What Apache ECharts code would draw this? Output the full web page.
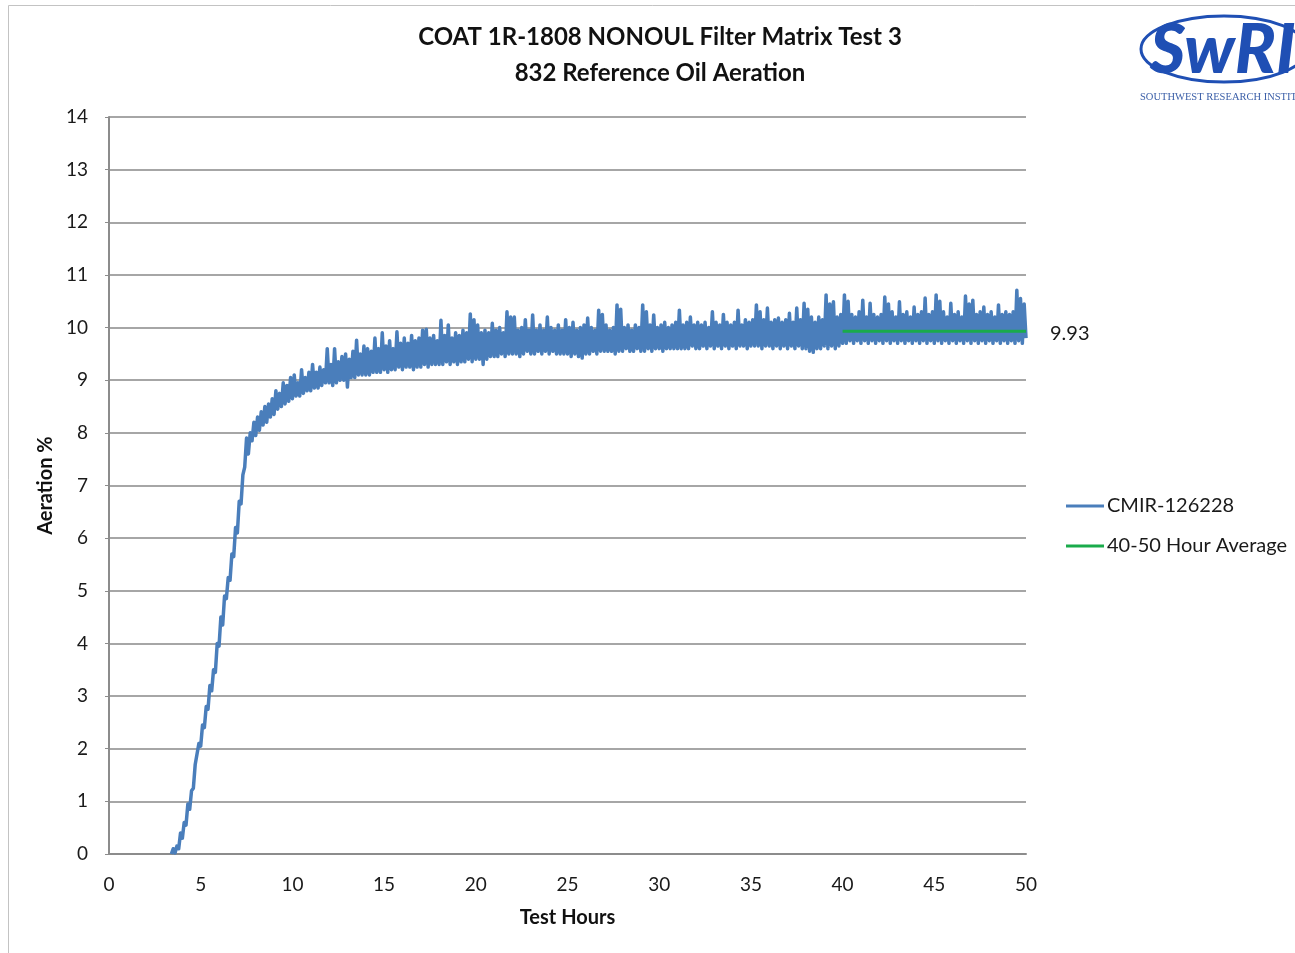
<!DOCTYPE html>
<html>
<head>
<meta charset="utf-8">
<title>COAT 1R-1808 NONOUL Filter Matrix Test 3</title>
<script src="https://cdn.jsdelivr.net/npm/echarts@6/dist/echarts.min.js"></script>
<style>
  html, body { margin: 0; padding: 0; background: #fff; }
  #chart { width: 1295px; height: 953px; }
</style>
</head>
<body>
<div id="chart"></div>
<script>
// Aeration readings, one every 0.1 test hour, starting at 3.4 h
const sampleStartHour = 3.4;
const sampleStepHours = 0.1;

// 3.4 h - 7.9 h : aeration build-up
const aerationRise = [
  0.0, 0.1, 0.02, 0.15, 0.1, 0.4,
  0.3, 0.6, 0.55, 0.95, 0.85, 1.2, 1.25, 1.7, 1.7, 2.1,
  2.05, 2.45, 2.4, 2.8, 2.75, 3.2, 3.1, 3.5, 3.45, 4.0,
  3.95, 4.5, 4.35, 4.9, 4.85, 5.25, 5.2, 5.7, 5.65, 6.2,
  6.1, 6.7, 6.65, 7.2, 7.35, 7.9, 7.6, 8.0, 7.85, 8.2
];

// 8.0 h - 19.9 h
const aeration8to20 = [
  7.95, 8.3, 8.05, 8.4, 8.15, 8.5, 8.2, 8.55, 8.3, 8.65,
  8.35, 8.8, 8.45, 8.75, 8.5, 8.95, 8.55, 8.9, 8.6, 9.05,
  8.65, 9.1, 8.7, 8.95, 8.7, 9.2, 8.75, 9.05, 8.8, 9.15,
  8.8, 9.3, 8.85, 9.15, 8.85, 9.25, 8.9, 9.2, 8.95, 9.6,
  8.95, 9.3, 8.9, 9.6, 8.95, 9.35, 9.0, 9.45, 9.0, 9.5,
  8.87, 9.4, 9.05, 9.55, 9.05, 9.76, 9.1, 9.5, 9.1, 9.65,
  9.1, 9.6, 9.1, 9.55, 9.15, 9.8, 9.15, 9.6, 9.15, 9.9,
  9.2, 9.65, 9.15, 9.75, 9.2, 9.6, 9.2, 9.92, 9.25, 9.7,
  9.2, 9.8, 9.25, 9.7, 9.25, 9.85, 9.2, 9.75, 9.25, 9.8,
  9.25, 9.95, 9.3, 9.97, 9.25, 9.8, 9.3, 9.85, 9.3, 9.75,
  9.3, 10.14, 9.3, 9.85, 9.35, 10.05, 9.3, 9.8, 9.35, 9.9,
  9.3, 9.85, 9.35, 9.95, 9.35, 9.9, 9.4, 10.26, 9.35, 10.15
];

// 20.0 h - 29.9 h
const aeration20to30 = [
  9.4, 10.05, 9.4, 9.9, 9.3, 9.95, 9.4, 9.9, 9.45, 10.08,
  9.45, 9.95, 9.45, 10.0, 9.5, 9.9, 9.45, 10.3, 9.5, 10.2,
  9.5, 10.2, 9.5, 9.95, 9.45, 10.0, 9.5, 10.15, 9.55, 9.95,
  9.5, 10.24, 9.5, 9.95, 9.55, 10.05, 9.5, 9.95, 9.55, 10.2,
  9.5, 10.0, 9.55, 9.95, 9.5, 10.05, 9.5, 9.95, 9.5, 10.15,
  9.5, 10.0, 9.45, 10.1, 9.5, 9.95, 9.45, 10.0, 9.42, 10.05,
  9.5, 10.18, 9.5, 10.0, 9.55, 9.95, 9.5, 10.33, 9.55, 10.25,
  9.55, 10.05, 9.55, 9.95, 9.55, 10.0, 9.5, 10.43, 9.55, 10.35,
  9.55, 10.0, 9.6, 10.05, 9.55, 9.95, 9.55, 10.05, 9.6, 10.0,
  9.55, 10.43, 9.55, 10.3, 9.6, 10.05, 9.55, 10.24, 9.6, 10.0
];

// 30.0 h - 39.9 h
const aeration30to40 = [
  9.6, 10.05, 9.55, 10.1, 9.6, 10.0, 9.6, 10.05, 9.6, 10.1,
  9.6, 10.33, 9.6, 10.05, 9.6, 10.1, 9.6, 10.2, 9.65, 10.05,
  9.6, 10.1, 9.6, 10.05, 9.65, 10.1, 9.6, 10.0, 9.65, 10.3,
  9.6, 10.1, 9.65, 10.05, 9.6, 10.25, 9.65, 10.1, 9.6, 10.05,
  9.65, 10.1, 9.6, 10.33, 9.65, 10.05, 9.65, 10.15, 9.6, 10.1,
  9.65, 10.15, 9.65, 10.43, 9.65, 10.3, 9.6, 10.15, 9.65, 10.37,
  9.65, 10.1, 9.6, 10.15, 9.65, 10.18, 9.6, 10.1, 9.65, 10.15,
  9.6, 10.27, 9.65, 10.1, 9.6, 10.37, 9.65, 10.15, 9.6, 10.46,
  9.6, 10.35, 9.55, 10.2, 9.53, 10.1, 9.6, 10.2, 9.6, 10.15,
  9.65, 10.62, 9.6, 10.45, 9.65, 10.49, 9.6, 10.2, 9.65, 10.25
];

// 40.0 h - 50.0 h
const aeration40to50 = [
  9.7, 10.62, 9.7, 10.5, 9.75, 10.25, 9.7, 10.2, 9.75, 10.3,
  9.7, 10.52, 9.75, 10.2, 9.7, 10.46, 9.75, 10.25, 9.7, 10.2,
  9.75, 10.25, 9.7, 10.58, 9.75, 10.45, 9.7, 10.3, 9.75, 10.2,
  9.7, 10.49, 9.75, 10.25, 9.7, 10.3, 9.75, 10.2, 9.7, 10.39,
  9.75, 10.25, 9.7, 10.3, 9.75, 10.56, 9.7, 10.25, 9.75, 10.3,
  9.7, 10.62, 9.75, 10.5, 9.7, 10.3, 9.75, 10.2, 9.7, 10.46,
  9.75, 10.25, 9.7, 10.3, 9.75, 10.2, 9.7, 10.6, 9.75, 10.45,
  9.7, 10.52, 9.75, 10.25, 9.7, 10.3, 9.75, 10.39, 9.7, 10.25,
  9.75, 10.3, 9.7, 10.2, 9.75, 10.43, 9.7, 10.25, 9.75, 10.3,
  9.7, 10.25, 9.75, 10.3, 9.7, 10.71, 9.75, 10.55, 9.7, 10.45,
  9.8
];

// 40-50 hour average
const averageWindow = [40, 50];
const averageValue = 9.93;

const seriesNames = ['CMIR-126228', '40-50 Hour Average'];
const xTicks = [0, 50, 5];   // min, max, interval
const yTicks = [0, 14, 1];

const allReadings = [].concat(aerationRise, aeration8to20, aeration20to30, aeration30to40, aeration40to50);
const readingPoints = allReadings.map((v, i) => [Math.round((sampleStartHour + i * sampleStepHours) * 10) / 10, v]);
const averagePoints = averageWindow.map(h => [h, averageValue]);

const FONT = 'Lato, "Open Sans", sans-serif';
const chart = echarts.init(document.getElementById('chart'));

chart.setOption({
  animation: false,
  backgroundColor: '#ffffff',
  grid: { left: 109, right: 269, top: 117, bottom: 99 },
  xAxis: {
    type: 'value',
    min: xTicks[0], max: xTicks[1], interval: xTicks[2],
    name: 'Test Hours',
    nameLocation: 'middle',
    nameGap: 54,
    nameTextStyle: { fontFamily: FONT, fontSize: 20, fontWeight: 'bold', color: '#111' },
    axisLine: { show: true, lineStyle: { color: '#8c8c8c', width: 2 } },
    axisTick: { show: false },
    axisLabel: { margin: 21, fontFamily: FONT, fontSize: 19, color: '#1a1a1a' },
    splitLine: { show: false }
  },
  yAxis: {
    type: 'value',
    min: yTicks[0], max: yTicks[1], interval: yTicks[2],
    name: 'Aeration %',
    nameLocation: 'middle',
    nameGap: 53,
    nameRotate: 90,
    nameTextStyle: { fontFamily: FONT, fontSize: 20, fontWeight: 'bold', color: '#111' },
    axisLine: { show: true, lineStyle: { color: '#8c8c8c', width: 2 } },
    axisTick: { show: true, inside: false, length: 4, lineStyle: { color: '#8c8c8c', width: 1 } },
    axisLabel: { margin: 21, fontFamily: FONT, fontSize: 19, color: '#1a1a1a' },
    splitLine: { show: true, lineStyle: { color: '#a6a6a6', width: 2 } }
  },
  legend: {
    orient: 'vertical',
    left: 1061,
    top: 491,
    itemGap: 20,
    itemWidth: 38,
    itemHeight: 3,
    icon: 'rect',
    textStyle: { fontFamily: FONT, fontSize: 20, color: '#1a1a1a', padding: [0, 0, 0, -2] },
    data: seriesNames
  },
  series: [
    {
      name: seriesNames[0],
      type: 'line',
      data: readingPoints,
      showSymbol: false,
      symbol: 'none',
      sampling: false,
      lineStyle: { color: '#4a7ebb', width: 3.5, join: 'round' },
      itemStyle: { color: '#4a7ebb' },
      z: 2
    },
    {
      name: seriesNames[1],
      type: 'line',
      data: averagePoints,
      symbol: 'none',
      lineStyle: { color: '#1aab4b', width: 3 },
      itemStyle: { color: '#1aab4b' },
      endLabel: {
        show: true,
        distance: 24,
        offset: [0, 2],
        fontFamily: FONT,
        fontSize: 20,
        color: '#1a1a1a',
        formatter: p => p.value[1].toFixed(2)
      },
      z: 3
    }
  ],
  graphic: [
    // chart frame (open at the bottom)
    { type: 'rect', silent: true, z: -10,
      shape: { x: 8.5, y: 5.5, width: 1400, height: 1000 },
      style: { fill: 'none', stroke: '#c3c3c3', lineWidth: 1 } },
    // title
    { type: 'text', silent: true,
      style: { x: 660, y: 37, text: 'COAT 1R-1808 NONOUL Filter Matrix Test 3',
               textAlign: 'center', textVerticalAlign: 'middle',
               font: 'bold 24px ' + FONT, fill: '#111' } },
    { type: 'text', silent: true,
      style: { x: 660, y: 73, text: '832 Reference Oil Aeration',
               textAlign: 'center', textVerticalAlign: 'middle',
               font: 'bold 24px ' + FONT, fill: '#111' } },
    // institute logo
    { type: 'ellipse', silent: true,
      shape: { cx: 1224, cy: 49, rx: 83, ry: 33 },
      style: { fill: 'none', stroke: '#1f4fb4', lineWidth: 3 } },
    { type: 'text', silent: true,
      style: { x: 1150, y: 51, text: 'SwRI', textVerticalAlign: 'middle',
               font: 'italic 900 68px ' + FONT, fill: '#1f4fb4' } },
    { type: 'text', silent: true,
      style: { x: 1140, y: 97, text: 'SOUTHWEST RESEARCH INSTITUTE', textVerticalAlign: 'middle',
               font: '10.5px "Liberation Serif", serif', fill: '#3b5fa8' } }
  ]
});
</script>
</body>
</html>
